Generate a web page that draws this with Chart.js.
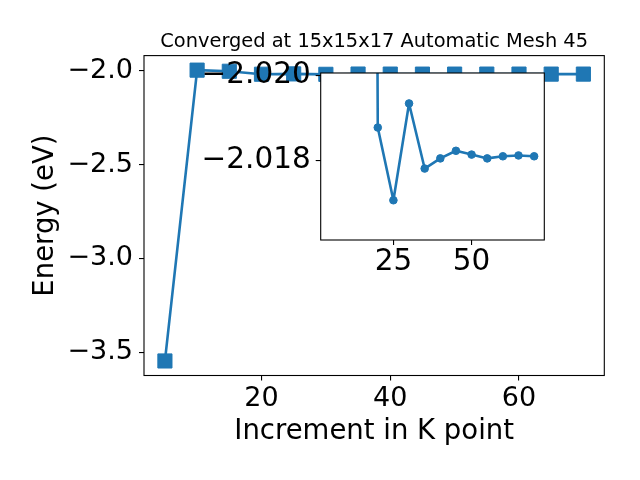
<!DOCTYPE html>
<html><head><meta charset="utf-8">
<script src="https://cdn.jsdelivr.net/npm/chart.js@4"></script>
<style>
html,body{margin:0;padding:0;background:#fff;}
#wrap{position:relative;width:640px;height:480px;overflow:hidden;}
#main{position:absolute;left:0;top:0;}
#inset{position:absolute;left:190px;top:60px;}
</style>
</head><body>
<div id="wrap">
<canvas id="main" width="640" height="480"></canvas>
<canvas id="inset" width="370" height="230"></canvas>
</div>
<script>
// ---- data ----
const kPoints = [5, 10, 15, 20, 25, 30, 35, 40, 45, 50, 55, 60, 65, 70];
const energy = [-3.546, -1.997, -2.003, -2.01877, -2.01705, -2.01934, -2.01780, -2.01804, -2.01822, -2.01813, -2.01804, -2.01809, -2.01811, -2.01809];
// inset: same points from k=15 on; the k=15 value lies far above the inset window
const insetK = [15, 20, 25, 30, 35, 40, 45, 50, 55, 60, 65, 70];
const insetEnergy = [-2.10, -2.01877, -2.01705, -2.01934, -2.01780, -2.01804, -2.01822, -2.01813, -2.01804, -2.01809, -2.01811, -2.01809];
const mainXTicks = [20, 40, 60];
const mainYTicks = [-2.0, -2.5, -3.0, -3.5];
const insetXTicks = [25, 50];
const insetYTicks = [-2.020, -2.018];
const insetYRange = [-2.02006, -2.01611];
const titleText = 'Converged at 15x15x17 Automatic Mesh 45';
const xLabel = 'Increment in K point';
const yLabel = 'Energy (eV)';

const blue = '#1f77b4';
const FONT = "'DejaVu Sans', sans-serif";
Chart.defaults.font.family = FONT;
Chart.defaults.color = '#000';

const fmt = (v, d) => { const s = Math.abs(v).toFixed(d); return (v < 0 ? '\u2212' : '') + s; };

const xmin = Math.min(...kPoints), xmax = Math.max(...kPoints);
const xpad = (xmax - xmin) * 0.05;
const ymin = Math.min(...energy), ymax = Math.max(...energy);
const ypad = (ymax - ymin) * 0.05;

const framePlugin = {
  id: 'frame',
  beforeDraw(chart, args, opts) {
    if (opts.fill) {
      const a = chart.chartArea, c = chart.ctx;
      c.save(); c.fillStyle = '#fff';
      c.fillRect(a.left, a.top, a.right - a.left, a.bottom - a.top);
      c.restore();
    }
  },
  afterDatasetsDraw(chart) {
    const a = chart.chartArea, c = chart.ctx;
    c.save(); c.strokeStyle = '#000'; c.lineWidth = 1.1;
    c.strokeRect(a.left, a.top, a.right - a.left, a.bottom - a.top);
    c.restore();
  },
  afterDraw(chart, args, opts) {
    if (opts.title) {
      const a = chart.chartArea, c = chart.ctx;
      c.save(); c.fillStyle = '#000';
      c.font = '19.4px ' + FONT; c.textAlign = 'center'; c.textBaseline = 'middle';
      c.fillText(opts.title, (a.left + a.right) / 2, 42);
      c.restore();
    }
  }
};

const noPad = s => { s.paddingTop = 0; s.paddingBottom = 0; s.paddingLeft = 0; s.paddingRight = 0; };
const tickGrid = { display: true, drawOnChartArea: false, drawTicks: true, tickLength: 5, color: '#000', lineWidth: 1.1 };

new Chart(document.getElementById('main'), {
  type: 'line',
  data: { datasets: [{
    data: kPoints.map((k, i) => ({ x: k, y: energy[i] })),
    borderColor: blue, backgroundColor: blue, borderWidth: 2.6, borderJoinStyle: 'round',
    pointStyle: 'rect', pointRadius: 10, pointBorderWidth: 1,
    pointBackgroundColor: blue, pointBorderColor: blue, tension: 0
  }]},
  options: {
    responsive: false, animation: false, devicePixelRatio: 1,
    layout: { padding: { left: 0, right: 35.7, top: 55.6, bottom: 0 } },
    plugins: {
      legend: { display: false }, tooltip: { enabled: false },
      frame: { fill: false, title: titleText }
    },
    scales: {
      x: { type: 'linear', min: xmin - xpad, max: xmax + xpad,
        afterBuildTicks: s => { s.ticks = mainXTicks.map(v => ({ value: v })); },
        afterFit: s => { s.height = 104.5; noPad(s); },
        grid: tickGrid, border: { display: false },
        ticks: { autoSkip: false, maxRotation: 0, padding: 2, font: { size: 27 }, callback: v => String(v) },
        title: { display: true, text: xLabel, font: { size: 27.5, lineHeight: 1.2 }, padding: { top: 0, bottom: 31.5 } } },
      y: { type: 'linear', min: ymin - ypad, max: ymax + ypad,
        afterBuildTicks: s => { s.ticks = mainYTicks.map(v => ({ value: v })); },
        afterFit: s => { s.width = 144; noPad(s); },
        grid: tickGrid, border: { display: false },
        ticks: { autoSkip: false, padding: 6, font: { size: 27 }, callback: v => fmt(v, 1) },
        title: { display: true, text: yLabel, font: { size: 27.5, lineHeight: 1.2 }, padding: { top: 29.5, bottom: 0 } } }
    }
  },
  plugins: [framePlugin]
});

new Chart(document.getElementById('inset'), {
  type: 'line',
  data: { datasets: [{
    data: insetK.map((k, i) => ({ x: k, y: insetEnergy[i] })),
    borderColor: blue, backgroundColor: blue, borderWidth: 2.6, borderJoinStyle: 'round',
    pointStyle: 'circle', pointRadius: 3.8, pointBorderWidth: 1,
    pointBackgroundColor: blue, pointBorderColor: blue, tension: 0
  }]},
  options: {
    responsive: false, animation: false, devicePixelRatio: 1,
    layout: { padding: { left: 0, right: 15.7, top: 13, bottom: 0 } },
    plugins: { legend: { display: false }, tooltip: { enabled: false }, frame: { fill: true } },
    scales: {
      x: { type: 'linear', min: xmin - xpad, max: xmax + xpad,
        afterBuildTicks: s => { s.ticks = insetXTicks.map(v => ({ value: v })); },
        afterFit: s => { s.height = 50; noPad(s); },
        grid: tickGrid, border: { display: false },
        ticks: { autoSkip: false, maxRotation: 0, padding: 0, font: { size: 29.5 }, callback: v => String(v) } },
      y: { type: 'linear', reverse: true, min: insetYRange[0], max: insetYRange[1],
        afterBuildTicks: s => { s.ticks = insetYTicks.map(v => ({ value: v })); },
        afterFit: s => { s.width = 130.7; noPad(s); },
        grid: tickGrid, border: { display: false },
        ticks: { autoSkip: false, padding: 5, font: { size: 29.5 }, callback: v => fmt(v, 3) } }
    }
  },
  plugins: [framePlugin]
});
</script>
</body></html>
